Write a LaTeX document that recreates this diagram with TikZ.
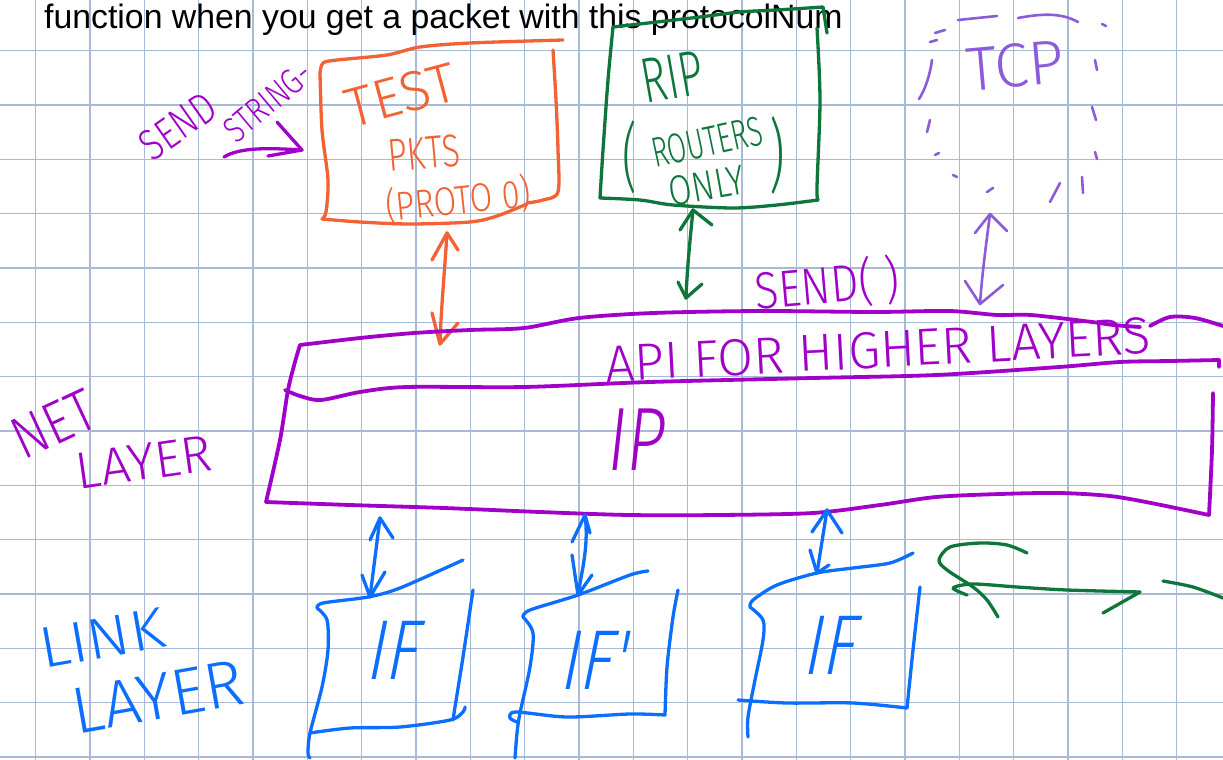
\documentclass[tikz,border=0pt]{standalone}
\usepackage{fontspec}
\setmainfont{Liberation Sans}
\newfontfamily\handfont{Fira Sans Light}
\begin{document}
\begin{tikzpicture}[x=1pt,y=-1pt,line cap=round,line join=round,
  hw/.style={font=\handfont\fontsize{#1}{#1}\selectfont,inner sep=0pt,outer sep=0pt},
  pen/.style={line width=3.3pt},
  fat/.style={line width=3.8pt},
  fine/.style={line width=2.6pt}]
\definecolor{cpurple}{RGB}{160,0,200}
\definecolor{corange}{RGB}{242,98,50}
\definecolor{cgreen}{RGB}{14,118,58}
\definecolor{ctcp}{RGB}{140,92,216}
\definecolor{cblue}{RGB}{12,110,255}
\definecolor{cgrid}{RGB}{168,186,214}
\useasboundingbox (0,0) rectangle (1223,760);
\fill[white] (0,0) rectangle (1223,760);
% graph paper
\foreach \k in {0,...,21} \draw[cgrid,line width=1.2pt] ({35.7+54.33*\k},0) -- ({35.7+54.33*\k},760);
\foreach \k in {0,...,13} \draw[cgrid,line width=1.2pt] (0,{50.7+54.33*\k}) -- (1223,{50.7+54.33*\k});
% heading
\node[anchor=base west,inner sep=0pt,font=\fontsize{33.8}{34}\selectfont] (title) at (44,29) {function when you get a packet with this protocolNum};

% ---------- send string ----------
\node[hw=44,text=cpurple,rotate=35,xscale=.8] (sendw) at (178,126) {SEND};
\node[hw=36,text=cpurple,rotate=40,xscale=.8] (stringw) at (268,102) {STRING-};
\draw[pen,cpurple] (224,157) .. controls (240,147) and (270,148) .. (302,150);
\draw[pen,cpurple] (277,122) -- (302,150) -- (268,156);

% ---------- test packets box ----------
\draw[pen,corange] plot[smooth,tension=.5] coordinates {(320,73) (323,63) (337,60) (387,55) (420,47) (470,43) (563,40)};
\draw[pen,corange] plot[smooth,tension=.5] coordinates {(320,73) (322,130) (328,180) (326,212) (322,219)};
\draw[pen,corange] plot[smooth,tension=.5] coordinates {(322,219) (360,222) (410,224) (470,222) (497,216) (527,204)};
\draw[pen,corange] plot[smooth,tension=.5] coordinates {(553,50) (556,100) (558,150) (558,192) (543,200) (527,203)};
\node[hw=56,text=corange,rotate=15] (testw) at (401,95) {TEST};
\node[hw=46,text=corange,rotate=5,xscale=.73] (pktsw) at (424,153) {PKTS};
\node[hw=40,text=corange,rotate=6,xscale=.82] (protow) at (458,200) {(PROTO 0)};
\coordinate (oa1) at (447,233);
\coordinate (oa2) at (440,344);
\draw[pen,corange] (oa1) .. controls (444,280) and (441,310) .. (oa2);
\draw[pen,corange] (432,260) -- (oa1) -- (458,250);
\draw[pen,corange] (432,313) -- (oa2) -- (458,323);

% ---------- RIP box ----------
\draw[pen,cgreen] plot[smooth,tension=.5] coordinates {(613,27) (657,22) (700,17) (740,12) (777,10) (823,7)} -- (827,33);
\draw[pen,cgreen] plot[smooth,tension=.5] coordinates {(613,27) (608,80) (603,150) (600,198)};
\draw[pen,cgreen] plot[smooth,tension=.5] coordinates {(600,198) (640,200) (673,205) (733,208) (777,205) (818,200)};
\draw[pen,cgreen] plot[smooth,tension=.5] coordinates {(817,28) (820,100) (817,187) (818,200)};
\node[hw=64,text=cgreen,rotate=10,xscale=.67] (ripw) at (672,77) {RIP};
\node[hw=75,text=cgreen,xscale=.6] (lpar) at (630,157) {(};
\node[hw=42,text=cgreen,rotate=12,xscale=.66] (routersw) at (707,142) {ROUTERS};
\node[hw=80,text=cgreen,xscale=.6] (rpar) at (777,155) {)};
\node[hw=42,text=cgreen,rotate=10,xscale=.8] (onlyw) at (707,186) {ONLY};
\coordinate (ga1) at (693,210);
\coordinate (ga2) at (686,298);
\draw[pen,cgreen] (ga1) .. controls (690,240) and (687,270) .. (ga2);
\draw[pen,cgreen] (680,230) -- (ga1) -- (712,225);
\draw[pen,cgreen] (678,282) -- (ga2) -- (702,284);

% ---------- TCP (sketched, dashed) ----------
\begin{scope}[fine,ctcp]
\draw (958,20) -- (997,16);
\draw (1018,18) .. controls (1040,14) and (1060,12) .. (1078,22);
\draw (1102,24) -- (1106,26);
\draw (1095,60) -- (1097,70);
\draw (1092,107) -- (1096,120);
\draw (1095,152) -- (1097,159);
\draw (1082,177) -- (1083,193);
\draw (1060,183) -- (1050,202);
\draw (987,192) -- (993,188);
\draw (953,175) -- (957,177);
\draw (935,155) -- (939,153);
\draw (930,120) -- (927,132);
\draw (932,60) .. controls (930,75) and (925,90) .. (919,99);
\draw (930,42) -- (937,40);
\draw (935,33) -- (945,30);
\end{scope}
\node[hw=62,text=ctcp,rotate=5] (tcpw) at (1015,66) {TCP};
\coordinate (ta1) at (990,214);
\coordinate (ta2) at (980,304);
\draw[fine,ctcp] (ta1) .. controls (986,245) and (982,275) .. (ta2);
\draw[fine,ctcp] (975,233) -- (ta1) -- (1007,231);
\draw[fine,ctcp] (965,281) -- (ta2) -- (1003,285);

% ---------- network layer: IP ----------
\node[hw=52,text=cpurple,rotate=5,xscale=.85] (sendcall) at (827,285) {SEND( )};
\draw[fat,cpurple] plot[smooth,tension=.5] coordinates {(300,345) (360,338) (414,333) (470,330) (524,328) (579,318) (653,313) (760,311) (874,312) (949,311) (997,315) (1031,315) (1092,322) (1113,325) (1140,327)};
\draw[fat,cpurple] plot[smooth,tension=.5] coordinates {(1150,326) (1170,317) (1195,318) (1223,326)};
\draw[fat,cpurple] plot[smooth,tension=.5] coordinates {(300,345) (295,362) (288,390) (280,440) (266,502)};
\draw[fat,cpurple] plot[smooth,tension=.5] coordinates {(285,390) (300,396) (321,400) (360,392) (407,387) (524,387) (650,382) (813,378) (936,375) (1059,367) (1120,362) (1170,361) (1219,360)} -- (1219,367);
\draw[fat,cpurple] plot[smooth,tension=.5] coordinates {(266,502) (350,505) (444,508) (540,512) (629,515) (720,515) (813,513) (880,505) (936,497) (1000,494) (1059,493) (1110,496) (1151,503) (1209,515)};
\draw[fat,cpurple] plot[smooth,tension=.5] coordinates {(1213,393) (1212,450) (1209,515)};
\node[hw=52,text=cpurple,rotate=3] (apiw) at (878,350) {API FOR HIGHER LAYERS};
\node[hw=90,text=cpurple,xscale=.75,xslant=.15] (ipw) at (638,440) {IP};
\node[hw=60,text=cpurple,rotate=25,xscale=.85] (netw) at (54,424) {NET};
\node[hw=52,text=cpurple,rotate=8] (netlayerw) at (144,462) {LAYER};

% ---------- link layer ----------
\node[hw=58,text=cblue,rotate=10,xscale=1.1] (linkw) at (102,638) {LINK};
\node[hw=66,text=cblue,rotate=10] (linklayerw) at (158,697) {LAYER};

% interface 1
\draw[pen,cblue] plot[smooth,tension=.5] coordinates {(317,608) (323,603) (368,597) (400,588) (463,560)};
\draw[pen,cblue] plot[smooth,tension=.5] coordinates {(317,608) (327,620) (328,650) (322,687) (310,733) (308,753) (310,758)};
\draw[pen,cblue] plot[smooth,tension=.5] coordinates {(473,590) (463,657) (455,707) (453,720)};
\draw[pen,cblue] plot[smooth,tension=.5] coordinates {(310,733) (350,728) (400,727) (450,720) (463,712) (465,707)};
\node[hw=85,text=cblue,xscale=.8,xslant=.25] (if1) at (396,650) {IF};
\coordinate (ba1) at (380,518);
\coordinate (bb1) at (370,597);
\draw[pen,cblue] (ba1) -- (bb1);
\draw[pen,cblue] (370,540) -- (ba1) -- (393,538);
\draw[pen,cblue] (362,575) -- (bb1) -- (385,572);

% interface 2
\draw[pen,cblue] plot[smooth,tension=.5] coordinates {(523,617) (530,610) (578,595) (630,575) (648,571)};
\draw[pen,cblue] plot[smooth,tension=.5] coordinates {(523,617) (533,633) (530,667) (520,713) (517,733) (515,758)};
\draw[pen,cblue] plot[smooth,tension=.5] coordinates {(517,722) (510,718) (516,712) (567,717) (630,714) (665,715)};
\draw[pen,cblue] plot[smooth,tension=.5] coordinates {(678,590) (673,617) (667,667) (665,715)};
\node[hw=85,text=cblue,xscale=.8,xslant=.25] (if2) at (597,660) {IF'};
\coordinate (ba2) at (585,515);
\coordinate (bb2) at (578,595);
\draw[pen,cblue] (ba2) .. controls (589,545) and (582,570) .. (bb2);
\draw[pen,cblue] (572,542) -- (ba2) -- (590,533);
\draw[pen,cblue] (572,555) -- (bb2) -- (592,575);

% interface 3
\draw[pen,cblue] plot[smooth,tension=.5] coordinates {(750,607) (753,600) (777,585) (817,573) (853,568) (890,563) (913,553)};
\draw[pen,cblue] plot[smooth,tension=.5] coordinates {(750,607) (763,620) (763,640) (755,680) (748,717) (748,737)};
\draw[pen,cblue] plot[smooth,tension=.5] coordinates {(738,700) (787,703) (853,703) (907,708)};
\draw[pen,cblue] plot[smooth,tension=.5] coordinates {(920,587) (913,650) (907,708)};
\node[hw=85,text=cblue,xscale=.8,xslant=.25] (if3) at (833,645) {IF};
\coordinate (ba3) at (827,510);
\coordinate (bb3) at (817,573);
\draw[pen,cblue] (ba3) -- (bb3);
\draw[pen,cblue] (812,532) -- (ba3) -- (842,533);
\draw[pen,cblue] (810,550) -- (bb3) -- (829,565);

% ---------- green loop arrow ----------
\draw[pen,cgreen] plot[smooth,tension=.5] coordinates {(1027,553) (1007,545) (980,543) (950,547) (939,560) (947,570) (973,587) (987,600) (998,617)};
\draw[pen,cgreen] plot[smooth,tension=.5] coordinates {(1140,592) (1067,590) (1017,587) (973,584) (953,588) (967,595)};
\draw[pen,cgreen] (1103,613) -- (1140,592);
\draw[pen,cgreen] plot[smooth,tension=.5] coordinates {(1163,581) (1193,587) (1223,598)};
\end{tikzpicture}
\end{document}
